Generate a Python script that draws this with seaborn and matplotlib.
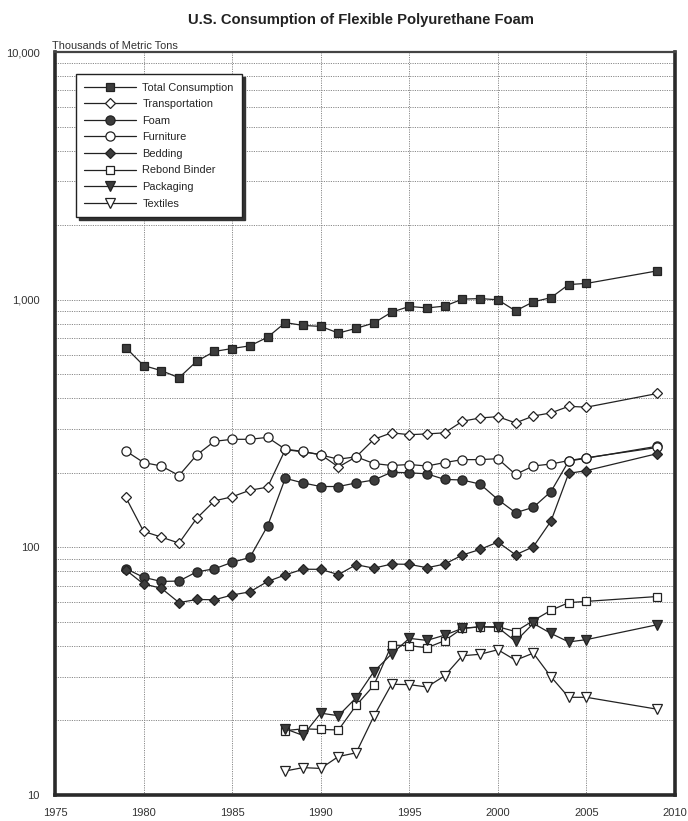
import matplotlib
matplotlib.use("Agg")
import matplotlib.pyplot as plt
import matplotlib.ticker as mticker
import seaborn as sns
import numpy as np

# ---------------- data (thousands of metric tons) ----------------
years_main = list(range(1979, 2006)) + [2009]
years_small = list(range(1988, 2006)) + [2009]

total_consumption = [640, 542, 517, 484, 564, 618, 635, 651, 705, 808, 787, 780, 733, 766,
                     805, 890, 939, 926, 942, 1005, 1010, 999, 901, 980, 1019, 1151, 1163, 1307]
transportation = [159, 116, 110, 104, 131, 154, 160, 170, 175, 248, 243, 237, 211, 232,
                  273, 290, 285, 287, 290, 323, 333, 337, 318, 339, 349, 371, 368, 418]
foam = [82, 75.7, 72.8, 73.1, 79.6, 81.9, 87, 91, 122, 190, 182, 176, 176, 182,
        187, 201, 200, 198, 188, 187, 180, 156, 138, 145, 168, 223, 229, 256]
furniture = [245, 220, 213, 195, 236, 268, 273, 273, 278, 249, 244, 236, 227, 232,
             218, 214, 216, 213, 220, 226, 226, 228, 197, 213, 217, 224, 230, 253]
bedding = [81, 71.1, 68.4, 59.8, 61.6, 61.4, 64.2, 66.1, 72.8, 77.4, 81.6, 81.5, 77.6, 85.1,
           82.4, 85.6, 85.4, 82.7, 85.6, 93.1, 98.1, 105, 93.3, 100.5, 127.7, 199, 204, 239]
rebond_binder = [18.2, 18.5, 18.4, 18.3, 23.0, 27.7, 40.3, 40.1, 39.3, 42.0, 47.1, 47.7,
                 47.8, 45.7, 50.6, 55.7, 59.8, 60.5, 63.3]
packaging = [18.5, 17.4, 21.4, 20.9, 24.7, 31.5, 37.1, 42.9, 42.1, 44.2, 47.1, 47.8,
             47.5, 41.7, 49.3, 44.9, 41.5, 42.4, 48.7]
textiles = [12.5, 12.9, 12.8, 14.3, 14.8, 20.8, 28.0, 27.9, 27.3, 30.3, 36.5, 37.0,
            38.6, 35.0, 37.4, 30.0, 24.8, 24.8, 22.2]

series_names = ["Total Consumption", "Transportation", "Foam", "Furniture",
                "Bedding", "Rebond Binder", "Packaging", "Textiles"]
series_years = [years_main] * 5 + [years_small] * 3
series_values = [total_consumption, transportation, foam, furniture,
                 bedding, rebond_binder, packaging, textiles]

x_ticks = [1975, 1980, 1985, 1990, 1995, 2000, 2005, 2010]
y_ticks = [10, 100, 1000, 10000]
y_ticklabels = ["10", "100", "1,000", "10,000"]

# ---------------- styles ----------------
DARK = "#3c3c3c"
EDGE = "#222222"
styles = {
    "Total Consumption": dict(marker="s", markersize=6.2, markerfacecolor=DARK, markeredgecolor=EDGE),
    "Transportation": dict(marker="D", markersize=4.8, markerfacecolor="white", markeredgecolor=EDGE),
    "Foam": dict(marker="o", markersize=6.6, markerfacecolor=DARK, markeredgecolor=EDGE),
    "Furniture": dict(marker="o", markersize=6.6, markerfacecolor="white", markeredgecolor=EDGE),
    "Bedding": dict(marker="D", markersize=4.8, markerfacecolor=DARK, markeredgecolor=EDGE),
    "Rebond Binder": dict(marker="s", markersize=6.2, markerfacecolor="white", markeredgecolor=EDGE),
    "Packaging": dict(marker="v", markersize=7.0, markerfacecolor=DARK, markeredgecolor=EDGE),
    "Textiles": dict(marker="v", markersize=7.6, markerfacecolor="white", markeredgecolor=EDGE),
}

sns.set_theme(style="white")
plt.rcParams["font.family"] = ["Liberation Sans", "DejaVu Sans"]

fig = plt.figure(figsize=(6.88, 8.21), dpi=100)
ax = fig.add_axes([55 / 688, 1 - 795 / 821, (675 - 55) / 688, (795 - 52) / 821])

for name, yrs, vals in zip(series_names, series_years, series_values):
    sns.lineplot(x=yrs, y=vals, ax=ax, color=EDGE, linewidth=0.9,
                 markeredgewidth=0.9, label=name, **styles[name])

ax.set_yscale("log")
ax.set_xlim(1975, 2010)
ax.set_ylim(10, 10000)

ax.set_xticks(x_ticks)
ax.set_xticklabels([str(t) for t in x_ticks])
ax.xaxis.set_minor_locator(mticker.MultipleLocator(1))
ax.set_yticks(y_ticks)
ax.set_yticklabels(y_ticklabels)
ax.yaxis.set_minor_locator(mticker.LogLocator(base=10, subs=np.arange(2, 10)))
ax.yaxis.set_minor_formatter(mticker.NullFormatter())

ax.grid(True, which="both", axis="y", linestyle=(0, (1.2, 1.2)), color="#8a8a8a", linewidth=0.7)
ax.grid(True, which="major", axis="x", linestyle=(0, (1.2, 1.2)), color="#8a8a8a", linewidth=0.7)
ax.set_axisbelow(True)

ax.tick_params(axis="x", which="major", direction="in", length=6, width=0.8, color="#555555",
               labelsize=8, labelcolor="#333333", pad=9)
ax.tick_params(axis="x", which="minor", direction="in", length=4, width=0.8, color="#555555")
ax.tick_params(axis="y", which="both", length=0, labelsize=8, labelcolor="#333333", pad=11)

for side in ["left", "bottom", "right"]:
    ax.spines[side].set_visible(True)
    ax.spines[side].set_linewidth(2.6)
    ax.spines[side].set_color("#2a2a2a")
ax.spines["top"].set_visible(True)
ax.spines["top"].set_linewidth(1.6)
ax.spines["top"].set_color("#444444")

ax.set_xlabel("")
ax.set_ylabel("")

leg = ax.legend(loc="upper left", bbox_to_anchor=(0.034, 0.97), frameon=True, fancybox=False,
                shadow={"color": "#333333", "alpha": 1.0}, fontsize=7.9, handlelength=4.7,
                labelspacing=0.6, borderpad=0.75, handletextpad=0.6, borderaxespad=0)
leg.get_frame().set_edgecolor(EDGE)
leg.get_frame().set_linewidth(1.0)
leg.get_frame().set_facecolor("white")

fig.text(361 / 688, 1 - 20 / 821, "U.S. Consumption of Flexible Polyurethane Foam",
         ha="center", va="center", fontsize=10.6, fontweight="bold", color="#222222")
fig.text(52 / 688, 1 - 46 / 821, "Thousands of Metric Tons", ha="left", va="center",
         fontsize=7.9, color="#333333")

fig.savefig("out.png", dpi=100, facecolor="white")
